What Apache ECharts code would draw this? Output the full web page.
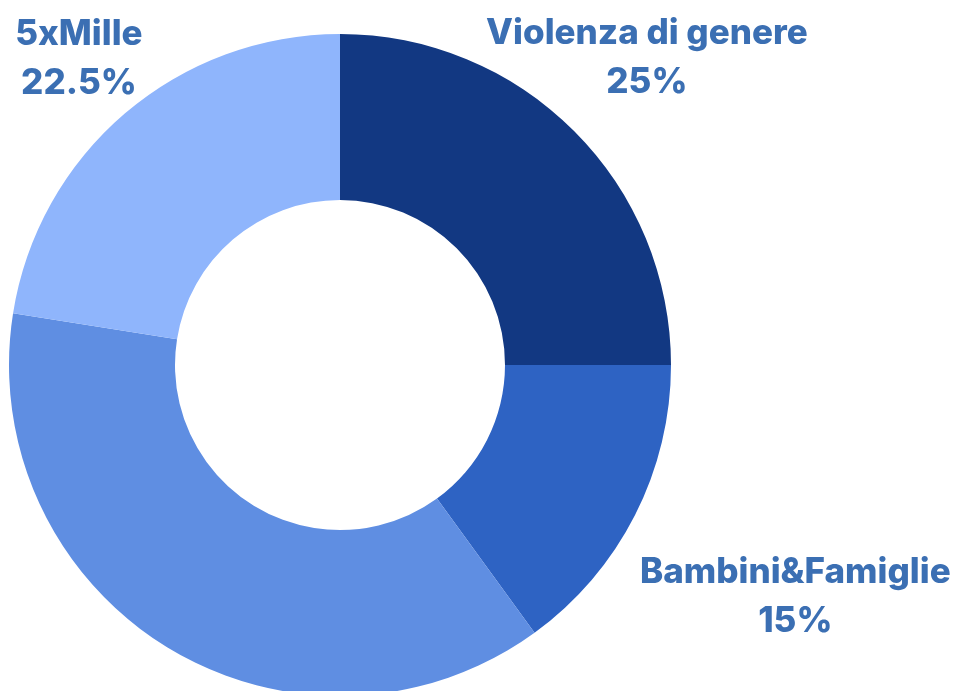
<!DOCTYPE html>
<html>
<head>
<meta charset="utf-8">
<script src="https://cdn.jsdelivr.net/npm/echarts@6/dist/echarts.min.js"></script>
<style>
  html, body { margin: 0; padding: 0; background: #fff; }
  #chart { width: 966px; height: 691px; }
</style>
</head>
<body>
<div id="chart"></div>
<script>
  // dati della torta (percentuali)
  const names = ['Violenza di genere', 'Bambini&Famiglie', 'Altro', '5xMille'];
  const values = [25, 15, 37.5, 22.5];
  const colors = ['#123882', '#2e63c3', '#5f8ee2', '#8fb5fc'];
  const showLabel = [true, true, false, true];

  const cx = 340, cy = 365;
  // distanza etichetta dal centro, per fetta
  const labelDist = [434, 511, 430, 402];

  // angolo medio di ogni fetta (da ore 12, in senso orario)
  const total = values.reduce((a, b) => a + b, 0);
  const midAngles = [];
  let acc = 0;
  values.forEach(v => {
    midAngles.push((acc + v / 2) / total * Math.PI * 2);
    acc += v;
  });

  let chart = echarts.init(document.getElementById('chart'));
  let option = {
    animation: false,
    series: [{
      type: 'pie',
      center: [cx, cy],
      radius: [165, 331],
      startAngle: 90,
      clockwise: true,
      avoidLabelOverlap: false,
      labelLine: { show: false },
      label: {
        show: true,
        position: 'outside',
        formatter: p => p.name + '\n' + p.value + '%',
        color: '#3b6fb3',
        fontFamily: 'Inter',
        fontWeight: 800,
        fontSize: 35,
        lineHeight: 49,
        align: 'center'
      },
      labelLayout: function (p) {
        const i = p.dataIndex;
        const a = midAngles[i];
        return {
          x: cx + labelDist[i] * Math.sin(a),
          y: cy - labelDist[i] * Math.cos(a),
          align: 'center',
          verticalAlign: 'middle'
        };
      },
      emphasis: { disabled: true },
      data: names.map((n, i) => ({
        name: n,
        value: values[i],
        itemStyle: { color: colors[i] },
        label: { show: showLabel[i] }
      }))
    }]
  };
  chart.setOption(option);
</script>
</body>
</html>
